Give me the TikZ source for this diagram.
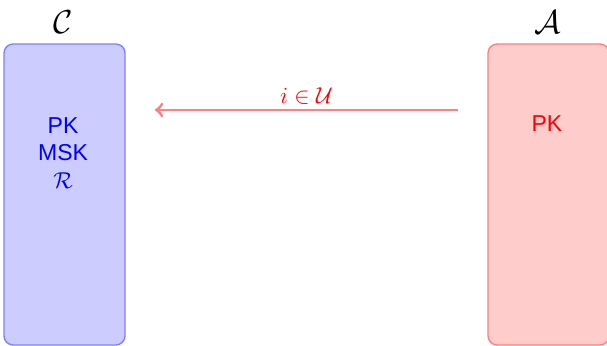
\documentclass[tikz,border=0pt]{standalone}
\usepackage{fontspec}
\setsansfont{Liberation Sans}
\usetikzlibrary{positioning}
\tikzset{
  party/.style={draw,semithick,rounded corners=4pt,minimum width=1.85cm,minimum height=4.6cm},
  msg/.style={->,line width=1.3pt,draw=red!50}
}
\begin{document}
\begin{tikzpicture}[every node/.style={font=\normalsize}]
  \useasboundingbox (0,0) rectangle (9.276,5.287);
  % challenger
  \node[party,fill=blue!20,draw=blue!50] (chal) at (0.986,2.315) {};
  \node[font=\Large] (chalname) at (0.963,4.951) {$\mathcal{C}$};
  \node[blue,align=center,font=\sffamily] (chalkeys) at (0.963,2.95) {PK\\MSK\\$\mathcal{R}$};
  % adversary
  \node[party,fill=red!20,draw=red!50] (adv) at (8.382,2.315) {};
  \node[font=\Large] (advname) at (8.373,4.951) {$\mathcal{A}$};
  \node[red,font=\sffamily] (advkeys) at (8.358,3.392) {PK};
  % query
  \coordinate (qsrc) at (6.998,3.606);
  \coordinate (qdst) at (2.368,3.606);
  \draw[msg] (qsrc) -- node[above,red,inner sep=2pt] (qlabel) {$i\in\mathcal{U}$} (qdst);
\end{tikzpicture}
\end{document}
